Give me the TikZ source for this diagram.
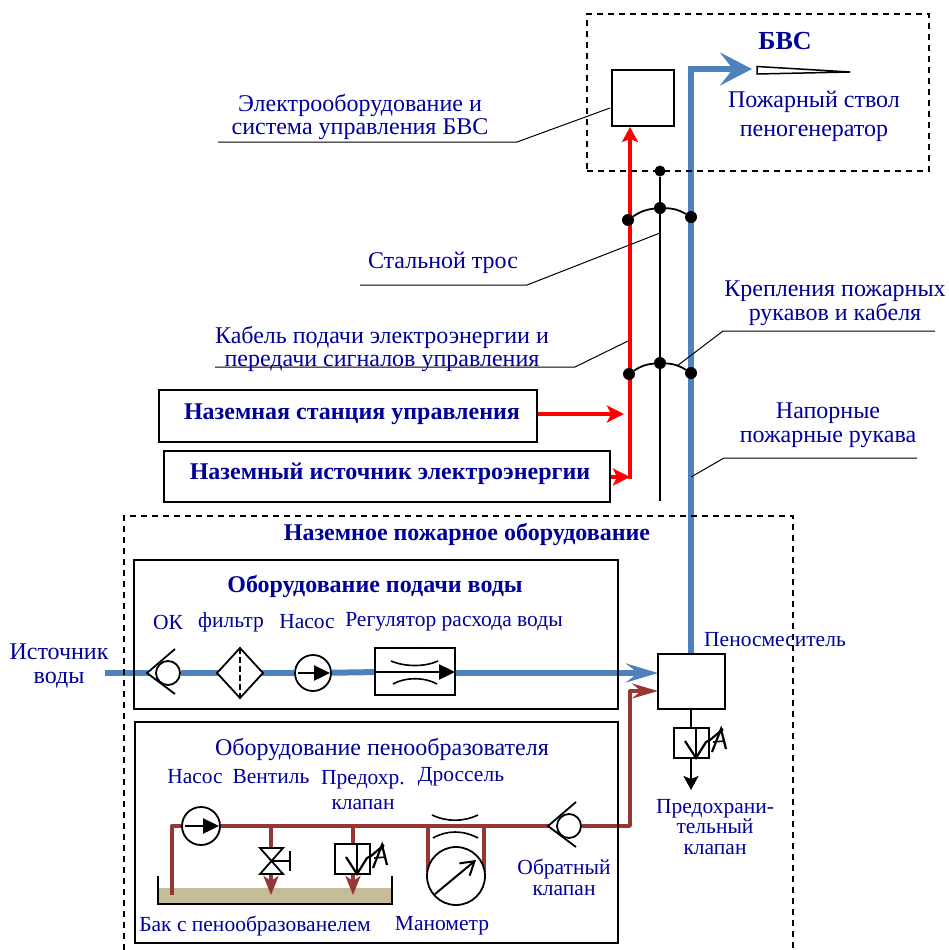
\documentclass[tikz,border=0pt]{standalone}
\usepackage{fontspec}
\setmainfont{Liberation Serif}
\usetikzlibrary{arrows.meta,backgrounds}
\definecolor{lbl}{HTML}{000099}
\definecolor{pipeblue}{HTML}{4F81BD}
\definecolor{pipebrown}{HTML}{953735}
\definecolor{tankfill}{HTML}{C4BD97}
\tikzset{
  lab/.style={text=lbl,inner sep=0pt,font=\fontsize{24}{23.5}\selectfont,align=center},
  labs/.style={lab,font=\fontsize{21.5}{20.5}\selectfont},
  labb/.style={lab,font=\fontsize{24}{26}\selectfont\bfseries},
  box/.style={draw=black,line width=1.8pt,fill=white,inner sep=0pt},
  group/.style={draw=black,line width=1.8pt,inner sep=0pt},
  dashbox/.style={draw=black,line width=1.4pt,dash pattern=on 6pt off 5pt},
  leader/.style={draw=black,line width=1pt},
  bluepipe/.style={draw=pipeblue,line width=6.5pt},
  waterpipe/.style={draw=pipeblue,line width=6pt},
  redpipe/.style={draw=red,line width=3.6pt},
  brownpipe/.style={draw=pipebrown,line width=3.4pt},
  sym/.style={draw=black,line width=1.8pt},
  dot/.style={circle,fill=black,inner sep=0pt,minimum size=12pt},
  symfill/.style={draw=black,line width=1.8pt,fill=white,inner sep=0pt},
}
\newcommand{\pumpsym}[4]{% name x y radius
  \node[symfill,circle,minimum size=#4*2pt] (#1) at (#2,#3) {};
  \draw[line width=2.4pt,-{Stealth[length=16pt,width=15pt,inset=0pt]}] (#2-#4+3,#3) -- (#2+#4-1,#3);
}
\newcommand{\checksym}[3]{% name x y
  \fill[white] (#2-20,#3) -- (#2-6,#3-10) -- (#2-6,#3+10) -- cycle;
  \node[symfill,circle,minimum size=24pt] (#1) at (#2,#3) {};
  \draw[sym] (#2+7,#3-24) -- (#2-21,#3) -- (#2+7,#3+21);
}
\newcommand{\reliefsym}[3]{% name x y (top-left)
  \node[box,minimum width=35pt,minimum height=30pt] (#1) at (#2+17.5,#3+15) {};
  \begin{scope}[shift={(#2,#3)}]
    \draw[line width=2.2pt] (22,-1) -- (22,30);
    \draw[line width=2.2pt] (11,13) -- (22,30) -- (32,14) -- (36,12) -- (49,1);
    \draw[line width=2.2pt] (38,24) -- (47,1) -- (52,21);
    \draw[line width=1.6pt] (39,14) -- (51,13);
  \end{scope}
}
\begin{document}
\begin{tikzpicture}[x=1pt,y=-1pt]
\useasboundingbox (0,0) rectangle (949,950);

% --- dashed groups
\node[dashbox,minimum width=342pt,minimum height=157pt,inner sep=0pt] (bvs) at (758,92.5) {};
\coordinate (gtl) at (124,516);
\coordinate (gtr) at (793,516);
\coordinate (gbl) at (124,950);
\coordinate (gbr) at (793,950);
\draw[dashbox] (gbl) -- (gtl) -- (gtr) -- (gbr);

% --- boxes
\node[box,minimum width=62pt,minimum height=56pt] (elec) at (643,98) {};
\node[box,minimum width=378pt,minimum height=52pt] (station) at (348,416) {};
\node[box,minimum width=446pt,minimum height=51pt] (source) at (387,476.5) {};
\node[group,minimum width=484pt,minimum height=149pt] (waterbox) at (376,634.5) {};
\node[group,minimum width=483pt,minimum height=221pt] (foambox) at (376.5,832.5) {};
\node[box,minimum width=67pt,minimum height=55pt] (mixer) at (691.5,681.5) {};

% --- water symbols
\checksym{wcheck}{168}{673}
\node[inner sep=0pt,minimum size=0pt] (fcentre) at (240,673) {};
\filldraw[sym,fill=white] (217,673) -- (240,648) -- (263,673) -- (240,698) -- cycle;
\draw[line width=1.6pt,dash pattern=on 6pt off 3pt] (240,648) -- (240,698);
\pumpsym{wpump}{313}{673}{18}
\node[box,minimum width=80pt,minimum height=47pt] (reg) at (415,671.5) {};
\draw[line width=1.6pt] (391,661) .. controls (405,667) and (425,667) .. (438,661);
\draw[line width=1.6pt] (393,684) .. controls (405,677) and (425,677) .. (437,684);
\draw[line width=2.4pt,-{Stealth[length=16pt,width=15pt,inset=0pt]}] (375,672) -- (455,672);

% --- foam symbols
\pumpsym{fpump}{201}{826}{19}
\filldraw[sym,fill=white] (260,848) -- (283,848) -- (260,874) -- (283,874) -- cycle;
\coordinate (vtop) at (271,848);
\coordinate (vbot) at (271,874);
\draw[sym] (271,861) -- (290,861) (290,851) -- (290,871);
\reliefsym{frelief}{335}{844}
\draw[line width=1.6pt] (432,815) .. controls (447,822) and (463,822) .. (478,815);
\draw[line width=1.6pt] (433,838) .. controls (447,830) and (463,830) .. (478,838);
\node[symfill,circle,minimum size=58pt] (gauge) at (456,876) {};
\draw[line width=2pt,-{Straight Barb[length=13pt,width=16pt]}] (435,894) -- (476,860);
\checksym{fcheck}{569}{826}
\reliefsym{mrelief}{674}{728}

% --- tank
\begin{scope}[on background layer]
  \fill[tankfill] (158,888) rectangle (392,904);
\end{scope}
\draw[line width=1.6pt] (158,876) -- (158,904) -- (392,904) -- (392,876);

% --- pipes
\begin{scope}[on background layer]
  \coordinate (wstart) at (105,673);
  \coordinate (nozzletip) at (752,69);
  \coordinate (hosebend) at (691,69);
  \draw[bluepipe,line join=miter,-{Stealth[length=32pt,width=33pt,inset=13pt]}] (mixer.north -| hosebend) -- (hosebend) -- (nozzletip);
  \draw[waterpipe] (wstart) -- (wcheck);
  \draw[waterpipe] (wcheck) -- (fcentre);
  \draw[waterpipe] (fcentre) -- (wpump);
  \draw[waterpipe] (wpump) -- (reg);
  \coordinate (wtip) at (658,673);
  \draw[waterpipe,-{Stealth[length=32pt,width=19pt,inset=12pt]}] (reg.east |- wtip) -- (wtip);
  % red
  \coordinate (redtop) at (630,127);
  \coordinate (redbot) at (630,479);
  \draw[redpipe,line width=4pt,-{Stealth[length=15pt,width=16pt,inset=3pt]}] (redbot) -- (redtop);
  \coordinate (st1) at (624,414);
  \draw[redpipe,-{Stealth[length=17pt,width=17pt,inset=4pt]}] (station.east |- st1) -- (st1);
  \coordinate (st2) at (630,477);
  \draw[redpipe,-{Stealth[length=17pt,width=17pt,inset=4pt]}] (source.east |- st2) -- (st2);
  % brown
  \coordinate (bbend1) at (630,826);
  \coordinate (bbend2) at (630,691);
  \coordinate (btip) at (658,691);
  \draw[brownpipe,line join=round,-{Stealth[length=26pt,width=15pt,inset=9pt]}] (fcheck) -- (bbend1) -- (bbend2) -- (btip);
  \coordinate (bstart) at (172,895);
  \coordinate (bb) at (172,826);
  \draw[brownpipe,line join=round] (bstart) -- (bb) -- (fpump);
  \draw[brownpipe] (fpump) -- (fcheck);
  \coordinate (j1) at (271,826);
  \coordinate (j2) at (353,826);
  \coordinate (j3) at (428,826);
  \coordinate (j4) at (484,826);
  \draw[brownpipe] (j1) -- (vtop);
  \coordinate (a1) at (271,895);
  \draw[brownpipe,-{Stealth[length=19pt,width=15pt,inset=5pt]}] (vbot) -- (a1);
  \draw[brownpipe] (j2) -- (frelief.north -| j2);
  \coordinate (a2) at (353,895);
  \draw[brownpipe,-{Stealth[length=19pt,width=15pt,inset=5pt]}] (frelief.south -| a2) -- (a2);
  \coordinate (g1) at (428,872);
  \coordinate (g2) at (484,872);
  \draw[brownpipe] (j3) -- (g1);
  \draw[brownpipe] (j4) -- (g2);
\end{scope}

% --- under mixer
\coordinate (mout) at (691,790);
\draw[line width=2pt] (mixer.south -| mout) -- (mrelief.north -| mout);
\draw[line width=2pt,-{Stealth[length=14pt,width=15pt,inset=3pt]}] (mrelief.south -| mout) -- (mout);

% --- steel cable and clamps
\node[dot,minimum size=11pt] (cabtop) at (660,171) {};
\node[dot] (c1m) at (660,208) {};
\node[dot] (c1l) at (628,220) {};
\node[dot] (c1r) at (691,217) {};
\node[dot] (c2m) at (660,363) {};
\node[dot] (c2l) at (629,374) {};
\node[dot] (c2r) at (691,373) {};
\coordinate (cabbot) at (660,501);
\draw[line width=1.4pt] (cabtop) -- (c1m) -- (c2m) -- (cabbot);
\draw[line width=1.8pt] (c1l) to[bend left=14] (c1m);
\draw[line width=1.8pt] (c1m) to[bend left=14] (c1r);
\draw[line width=1.8pt] (c2l) to[bend left=14] (c2m);
\draw[line width=1.8pt] (c2m) to[bend left=14] (c2r);

% --- nozzle
\coordinate (nz1) at (757,66.5);
\coordinate (nz2) at (757,74);
\coordinate (nz3) at (850,72);
\draw[line width=1.5pt,line join=miter] (nz3) -- (nz1) -- (nz2) -- cycle;

% --- leaders
\coordinate (la) at (218,142); \coordinate (lb) at (517,142); \coordinate (lc) at (610,108);
\draw[leader] (la) -- (lb) -- (lc);
\coordinate (ld) at (360,285); \coordinate (le) at (527,285); \coordinate (lf) at (660,233);
\draw[leader] (ld) -- (le) -- (lf);
\coordinate (lg) at (215,367); \coordinate (lh) at (575,367); \coordinate (li) at (628,341);
\draw[leader] (lg) -- (lh) -- (li);
\coordinate (lj) at (677,366); \coordinate (lk) at (723,331); \coordinate (ll) at (935,331);
\draw[leader] (lj) -- (lk) -- (ll);
\coordinate (lm) at (691,477); \coordinate (ln) at (724,458); \coordinate (lo) at (917,458);
\draw[leader] (lm) -- (ln) -- (lo);

% --- labels
\node[labb,font=\fontsize{26}{28}\selectfont\bfseries] (tbvs) at (785,41) {БВС};
\node[lab,font=\fontsize{24}{29}\selectfont] (t1) at (814,116) {Пожарный ствол\\пеногенератор};
\node[lab] (t3) at (360,117) {Электрооборудование и\\система управления БВС};
\node[lab] (t5) at (443,263) {Стальной трос};
\node[lab] (t6) at (382,349) {Кабель подачи электроэнергии и\\передачи сигналов управления};
\node[lab] (t8) at (835,303) {Крепления пожарных\\рукавов и кабеля};
\node[lab] (t10) at (828,425) {Напорные\\пожарные рукава};
\node[labb] (t12) at (352,414) {Наземная станция управления};
\node[labb] (t13) at (390,474) {Наземный источник электроэнергии};
\node[labb] (t14) at (467,534) {Наземное пожарное оборудование};
\node[labb] (t15) at (375,586) {Оборудование подачи воды};
\node[labs] (t16) at (168,622) {ОК};
\node[labs] (t17) at (231,622) {фильтр};
\node[labs] (t18) at (307,622) {Насос};
\node[labs] (t19) at (454,622) {Регулятор расхода воды};
\node[lab] (t20) at (59,666) {Источник\\воды};
\node[labs] (t22) at (775,640) {Пеносмеситель};
\node[lab] (t23) at (382,749) {Оборудование пенообразователя};
\node[labs] (t24) at (195,777) {Насос};
\node[labs] (t25) at (271,777) {Вентиль};
\node[labs,font=\fontsize{21.5}{25}\selectfont] (t26) at (363,790) {Предохр.\\клапан};
\node[labs] (t28) at (461,777) {Дроссель};
\node[labs,font=\fontsize{21.5}{21}\selectfont] (t29) at (564,877) {Обратный\\клапан};
\node[labs] (t31) at (715,827) {Предохрани-\\тельный\\клапан};
\node[labs] (t34) at (255,926) {Бак с пенообразованелем};
\node[labs] (t35) at (442,926) {Манометр};
\end{tikzpicture}
\end{document}
